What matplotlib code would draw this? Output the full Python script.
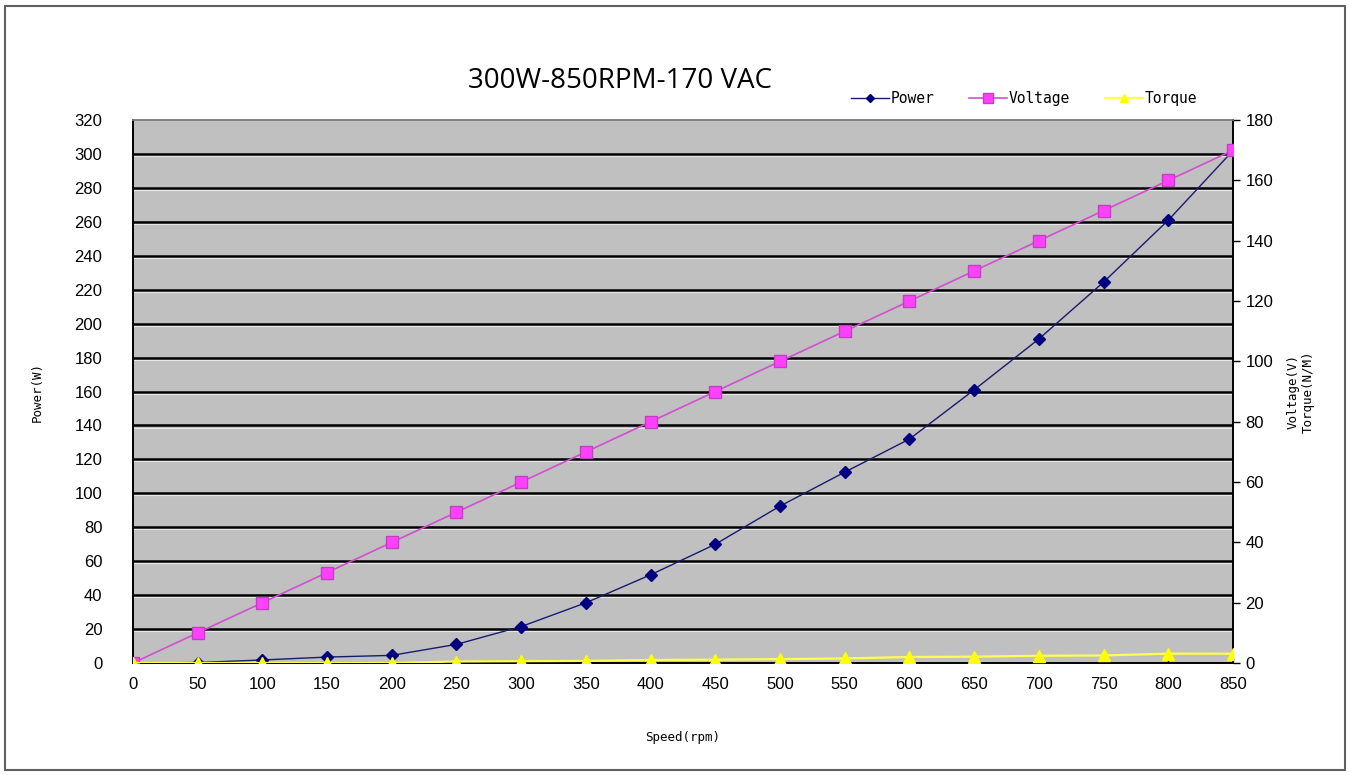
import numpy as np
import matplotlib.pyplot as plt
from matplotlib.patches import Rectangle

## data
speed = [0, 50, 100, 150, 200, 250, 300, 350, 400, 450,
         500, 550, 600, 650, 700, 750, 800, 850]
power = [0, 0.3, 1.8, 3.5, 4.5, 11, 21.5, 35.5, 52, 70,
         92.5, 112.5, 132, 161, 191, 224.5, 261, 302]
voltage = [0, 10, 20, 30, 40, 50, 60, 70, 80, 90,
           100, 110, 120, 130, 140, 150, 160, 170]
torque = [0, 0, 0, 0, 0, 0.5, 0.6, 0.7, 1.0, 1.1,
          1.3, 1.5, 2.0, 2.1, 2.4, 2.5, 3.1, 3.1]

left_ticks = np.arange(0, 321, 20)
right_ticks = np.arange(0, 181, 20)
x_ticks = np.arange(0, 851, 50)

## figure
fig = plt.figure(figsize=(13.5, 7.75), dpi=100)
fig.patches.append(Rectangle((0.004, 0.006), 0.992, 0.986, transform=fig.transFigure,
                             fill=False, edgecolor='#606060', linewidth=1.5))

ax = fig.add_axes([0.0985, 0.1445, 0.8148, 0.7005])
ax.set_facecolor('#c0c0c0')
ax.set_xlim(0, 850)
ax.set_ylim(0, 320)
ax.set_yticks(left_ticks)
ax.set_xticks(x_ticks)
for y in left_ticks[1:-1]:
    ax.axhline(y, color='black', linewidth=1.8, zorder=1)
    ax.axhline(y - 1.2, color='#e8e8e8', linewidth=0.8, zorder=1)

ax.plot(speed, power, color='#1a1a6e', linewidth=1.0, marker='D', markersize=6,
        markerfacecolor='#000080', markeredgecolor='#000080', label='Power', zorder=3)

ax2 = ax.twinx()
ax2.set_ylim(0, 180)
ax2.set_yticks(right_ticks)
ax2.plot(speed, voltage, color='#d050d0', linewidth=1.2, marker='s', markersize=9,
         markerfacecolor='#ff40ff', markeredgecolor='#c040c0', label='Voltage', zorder=3)
ax2.plot(speed, torque, color='#ffff50', linewidth=1.6, marker='^', markersize=8,
         markerfacecolor='#ffff00', markeredgecolor='#ffff00', label='Torque', zorder=3)

for a in (ax, ax2):
    for s in a.spines.values():
        s.set_color('black')
        s.set_linewidth(1.2)
    a.spines['top'].set_color('#808080')
    a.tick_params(length=4, width=1, labelsize=12, colors='black')
    for lab in a.get_yticklabels() + a.get_xticklabels():
        lab.set_fontfamily('Liberation Sans')
ax.tick_params(axis='y', length=0, pad=22)
ax.tick_params(axis='x', direction='in', length=4, pad=10)
ax2.tick_params(axis='y', length=5, pad=4)

lab_font = dict(family='DejaVu Sans Mono', fontsize=9)
ax.set_ylabel('Power(W)', labelpad=22, **lab_font)
ax2.set_ylabel('Voltage(V)\nTorque(N/M)', labelpad=30, rotation=90, va='bottom', **lab_font)
ax.set_xlabel('Speed(rpm)', labelpad=28, **lab_font)

fig.text(0.459, 0.895, '300W-850RPM-170 VAC', family='Open Sans', fontsize=20,
         ha='center', va='center')

h1, l1 = ax.get_legend_handles_labels()
h2, l2 = ax2.get_legend_handles_labels()
fig.legend(h1 + h2, l1 + l2, loc='center', bbox_to_anchor=(0.7585, 0.873), ncol=3,
           frameon=False, prop=dict(family='DejaVu Sans Mono', size=10.5),
           handlelength=2.6, columnspacing=2.4, handletextpad=0.1, markerscale=0.75)

fig.savefig('out.png', dpi=100)
